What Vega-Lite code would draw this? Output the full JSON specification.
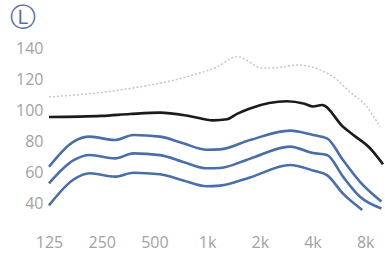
{
  "$schema": "https://vega.github.io/schema/vega-lite/v6.json",
  "width": 336,
  "height": 186,
  "autosize": {"type": "none"},
  "padding": {"left": 49, "top": 32.5, "right": 0, "bottom": 35.5},
  "background": "white",
  "title": {"text": "Ⓛ", "anchor": "start", "dx": -6, "fontSize": 26, "color": "#5b6f9e", "font": "DejaVu Sans", "fontWeight": "normal", "offset": 2},
  "config": {
    "view": {"stroke": null},
    "axis": {"grid": false, "domain": false, "ticks": false, "labelFont": "Open Sans", "labelFontSize": 16, "labelColor": "#a2a2a2", "title": null}
  },
  "data": {"values": [
    {"f":125,"v":63.4,"s":"b1"},{"f":172,"v":79.5,"s":"b1"},{"f":214,"v":82.8,"s":"b1"},{"f":298,"v":80.6,"s":"b1"},{"f":379,"v":83.9,"s":"b1"},{"f":538,"v":82.8,"s":"b1"},{"f":731,"v":78.5,"s":"b1"},{"f":995,"v":74.4,"s":"b1"},{"f":1185,"v":74.6,"s":"b1"},{"f":1758,"v":80.6,"s":"b1"},{"f":2975,"v":86.7,"s":"b1"},{"f":4028,"v":83.9,"s":"b1"},{"f":4841,"v":81.7,"s":"b1"},{"f":5976,"v":67.7,"s":"b1"},{"f":7474,"v":53.7,"s":"b1"},{"f":9900,"v":41,"s":"b1"},
    {"f":125,"v":52.7,"s":"b2"},{"f":172,"v":67.5,"s":"b2"},{"f":214,"v":71,"s":"b2"},{"f":298,"v":68.8,"s":"b2"},{"f":379,"v":72,"s":"b2"},{"f":538,"v":70.9,"s":"b2"},{"f":731,"v":66.5,"s":"b2"},{"f":995,"v":62.4,"s":"b2"},{"f":1185,"v":62.6,"s":"b2"},{"f":1758,"v":68.6,"s":"b2"},{"f":2975,"v":76.4,"s":"b2"},{"f":4028,"v":72.2,"s":"b2"},{"f":4841,"v":71,"s":"b2"},{"f":5976,"v":57,"s":"b2"},{"f":7474,"v":44,"s":"b2"},{"f":9900,"v":36.5,"s":"b2"},
    {"f":125,"v":38.5,"s":"b3"},{"f":172,"v":55,"s":"b3"},{"f":214,"v":59.2,"s":"b3"},{"f":298,"v":57,"s":"b3"},{"f":379,"v":59.5,"s":"b3"},{"f":538,"v":58.5,"s":"b3"},{"f":731,"v":54.5,"s":"b3"},{"f":995,"v":50.8,"s":"b3"},{"f":1185,"v":51.2,"s":"b3"},{"f":1758,"v":56.5,"s":"b3"},{"f":2975,"v":64.5,"s":"b3"},{"f":4028,"v":61,"s":"b3"},{"f":4841,"v":58,"s":"b3"},{"f":5976,"v":46,"s":"b3"},{"f":7700,"v":35.5,"s":"b3"},
    {"f":125,"v":95.5,"s":"k"},{"f":250,"v":96.2,"s":"k"},{"f":362,"v":97.4,"s":"k"},{"f":538,"v":98.3,"s":"k"},{"f":800,"v":96,"s":"k"},{"f":1081,"v":93.3,"s":"k"},{"f":1300,"v":94,"s":"k"},{"f":1482,"v":97.5,"s":"k"},{"f":1758,"v":101,"s":"k"},{"f":2861,"v":105.6,"s":"k"},{"f":3600,"v":104,"s":"k"},{"f":4028,"v":102.3,"s":"k"},{"f":4535,"v":103.2,"s":"k"},{"f":5976,"v":89.2,"s":"k"},{"f":6813,"v":84,"s":"k"},{"f":8500,"v":75.5,"s":"k"},{"f":10113,"v":65,"s":"k"},
    {"f":125,"v":108.4,"s":"g"},{"f":318,"v":112.9,"s":"g"},{"f":768,"v":121.5,"s":"g"},{"f":1150,"v":128,"s":"g"},{"f":1482,"v":134.4,"s":"g"},{"f":2086,"v":127,"s":"g"},{"f":2600,"v":127.5,"s":"g"},{"f":3263,"v":129,"s":"g"},{"f":5237,"v":121.5,"s":"g"},{"f":6500,"v":112,"s":"g"},{"f":8190,"v":102,"s":"g"},{"f":9724,"v":89,"s":"g"}
  ]},
  "encoding": {
    "x": {"field": "f", "type": "quantitative",
      "scale": {"type": "log", "base": 2, "domain": [125, 10381], "nice": false},
      "axis": {"values": [125, 250, 500, 1000, 2000, 4000, 8000], "labelExpr": "datum.value >= 1000 ? (datum.value/1000) + 'k' : datum.value", "labelPadding": 16, "labelFlush": false}},
    "y": {"field": "v", "type": "quantitative",
      "scale": {"domain": [30, 150], "nice": false, "zero": false},
      "axis": {"values": [40, 60, 80, 100, 120, 140], "labelPadding": 6}}
  },
  "layer": [
    {"transform": [{"filter": "datum.s == 'g'"}],
     "mark": {"type": "line", "color": "#c6c6c6", "strokeWidth": 1.5, "strokeDash": [2, 2], "interpolate": "monotone"}},
    {"transform": [{"filter": "datum.s == 'b1' || datum.s == 'b2' || datum.s == 'b3'"}],
     "mark": {"type": "line", "color": "#4a6ea8", "strokeWidth": 2.6, "interpolate": "monotone"},
     "encoding": {"detail": {"field": "s"}}},
    {"transform": [{"filter": "datum.s == 'k'"}],
     "mark": {"type": "line", "color": "#1d1a1a", "strokeWidth": 2.6, "interpolate": "monotone"}}
  ]
}
